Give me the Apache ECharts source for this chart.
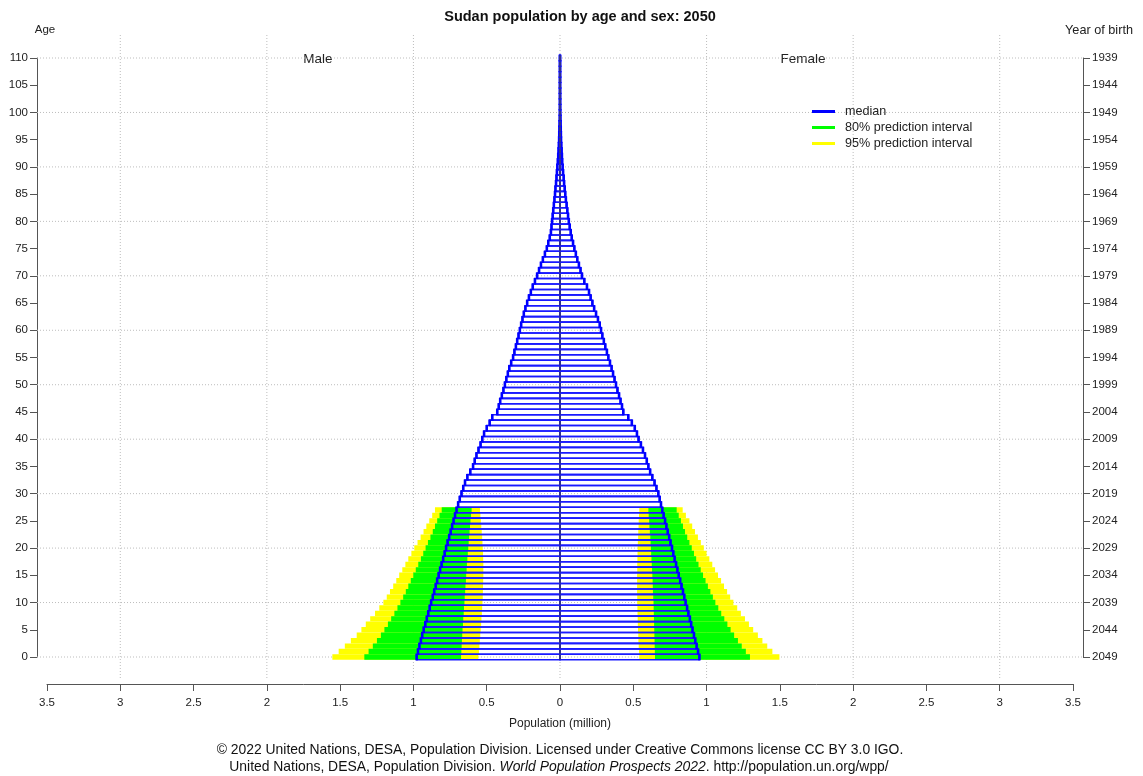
<!DOCTYPE html>
<html>
<head>
<meta charset="utf-8">
<script src="https://cdn.jsdelivr.net/npm/echarts@6/dist/echarts.min.js"></script>
<style>
html,body{margin:0;padding:0;background:#fff}
#chart{width:1143px;height:776px}
</style>
</head>
<body>
<div id="chart"></div>
<script>
// ---------------- DATA (population in millions, index = age 0..110) ----------------
const maleMedian = [
  0.978, 0.969, 0.959, 0.949, 0.940, 0.930, 0.919, 0.909, 0.899, 0.889,  // 0-9
  0.879, 0.868, 0.858, 0.848, 0.838, 0.828, 0.818, 0.808, 0.797, 0.787,  // 10-19
  0.777, 0.767, 0.756, 0.746, 0.736, 0.726, 0.716, 0.706, 0.695, 0.684,  // 20-29
  0.672, 0.660, 0.648, 0.632, 0.612, 0.593, 0.582, 0.570, 0.556, 0.542,  // 30-39
  0.530, 0.518, 0.500, 0.480, 0.462, 0.428, 0.418, 0.408, 0.397, 0.386,  // 40-49
  0.376, 0.366, 0.356, 0.346, 0.333, 0.320, 0.311, 0.301, 0.292, 0.283,  // 50-59
  0.274, 0.265, 0.256, 0.247, 0.236, 0.224, 0.212, 0.199, 0.186, 0.171,  // 60-69
  0.156, 0.143, 0.130, 0.117, 0.103, 0.090, 0.080, 0.070, 0.062, 0.058,  // 70-79
  0.054, 0.050, 0.046, 0.042, 0.038, 0.034, 0.031, 0.027, 0.024, 0.021,  // 80-89
  0.018, 0.015, 0.012, 0.010, 0.008, 0.006, 0.005, 0.004, 0.003, 0.002,  // 90-99
  0.0015, 0.0012, 0.0010, 0.0008, 0.0006, 0.0005, 0.0004, 0.0003, 0.0002, 0.0001, // 100-109
  0.0001                                                                   // 110
];
const femaleMedian = [
  0.951, 0.942, 0.932, 0.923, 0.914, 0.904, 0.895, 0.886, 0.876, 0.867,  // 0-9
  0.857, 0.848, 0.839, 0.829, 0.820, 0.810, 0.801, 0.792, 0.782, 0.773,  // 10-19
  0.764, 0.754, 0.745, 0.735, 0.726, 0.717, 0.707, 0.698, 0.689, 0.680,  // 20-29
  0.671, 0.658, 0.645, 0.630, 0.615, 0.603, 0.592, 0.580, 0.566, 0.552,  // 30-39
  0.536, 0.525, 0.510, 0.490, 0.466, 0.432, 0.423, 0.413, 0.403, 0.392,  // 40-49
  0.382, 0.372, 0.362, 0.352, 0.341, 0.330, 0.320, 0.309, 0.299, 0.289,  // 50-59
  0.280, 0.271, 0.259, 0.246, 0.233, 0.221, 0.209, 0.198, 0.184, 0.166,  // 60-69
  0.150, 0.140, 0.129, 0.118, 0.108, 0.098, 0.089, 0.080, 0.073, 0.066,  // 70-79
  0.060, 0.055, 0.050, 0.045, 0.040, 0.036, 0.032, 0.028, 0.025, 0.021,  // 80-89
  0.018, 0.015, 0.013, 0.011, 0.009, 0.007, 0.006, 0.005, 0.004, 0.003,  // 90-99
  0.0020, 0.0016, 0.0013, 0.0010, 0.0008, 0.0006, 0.0005, 0.0004, 0.0003, 0.0002, // 100-109
  0.0001                                                                   // 110
];

// prediction intervals, ages 0..27 (cohorts born after the base year)
const maleL95 = [0.557,0.553,0.550,0.547,0.544,0.541,0.538,0.536,0.533,0.531,0.529,0.527,0.526,0.525,
                 0.524,0.523,0.523,0.523,0.524,0.525,0.527,0.529,0.531,0.534,0.537,0.540,0.543,0.546];
const maleL80 = [0.675,0.673,0.671,0.669,0.667,0.665,0.662,0.660,0.657,0.655,0.652,0.650,0.647,0.645,
                 0.642,0.640,0.637,0.635,0.632,0.629,0.626,0.623,0.620,0.617,0.614,0.611,0.607,0.603];
const maleU80 = [1.335,1.306,1.277,1.249,1.222,1.198,1.174,1.152,1.130,1.109,1.089,1.070,1.052,1.035,
                 1.018,1.001,0.984,0.967,0.949,0.933,0.917,0.901,0.884,0.868,0.853,0.838,0.822,0.807];
const maleU95 = [1.553,1.510,1.468,1.427,1.387,1.355,1.325,1.295,1.262,1.233,1.205,1.182,1.160,1.138,
                 1.117,1.097,1.076,1.055,1.035,1.014,0.994,0.972,0.951,0.931,0.912,0.892,0.872,0.853];
const femaleL95 = [0.541,0.539,0.537,0.535,0.534,0.532,0.531,0.530,0.529,0.528,0.527,0.527,0.526,0.526,
                   0.526,0.526,0.527,0.527,0.528,0.529,0.530,0.531,0.533,0.534,0.536,0.537,0.539,0.541];
const femaleL80 = [0.648,0.647,0.646,0.645,0.644,0.643,0.642,0.641,0.640,0.639,0.638,0.636,0.634,0.633,
                   0.632,0.630,0.628,0.626,0.624,0.622,0.620,0.618,0.616,0.613,0.610,0.608,0.605,0.603];
const femaleU80 = [1.296,1.268,1.240,1.214,1.188,1.164,1.142,1.121,1.100,1.080,1.060,1.043,1.026,1.009,
                   0.993,0.976,0.960,0.945,0.929,0.914,0.899,0.883,0.868,0.853,0.839,0.825,0.810,0.796];
const femaleU95 = [1.497,1.449,1.414,1.381,1.350,1.318,1.289,1.262,1.234,1.209,1.183,1.161,1.140,1.119,
                   1.099,1.078,1.058,1.039,1.019,1.000,0.981,0.961,0.941,0.921,0.902,0.883,0.859,0.837];

// tick labels
const birthYearLabels = ['2049','2044','2039','2034','2029','2024','2019','2014','2009','2004','1999','1994',
                         '1989','1984','1979','1974','1969','1964','1959','1954','1949','1944','1939'];
const popGridValues = [-3, -2, -1, 0, 1, 2, 3];
const ageGridValues = [0, 10, 20, 30, 40, 50, 60, 70, 80, 90, 100, 110];

// ---------------- LAYOUT ----------------
const FONT = '"Liberation Sans", Arial, Helvetica, sans-serif';
const L = { ax: 47, axR: 1073, ayTop: 58, ayBot: 657,   // data-axis frame
            px: 37, pxR: 1083, pyTop: 35, pyBot: 680 }; // plot region (grid lines)
const W = 1143, H = 776;
const ux = (L.axR - L.ax) / 7;
const uy = (L.ayBot - L.ayTop) / 110;
const xBmin = -3.5 - (L.ax - L.px) / ux, xBmax = 3.5 + (L.pxR - L.axR) / ux;
const yBmin = -(L.pyBot - L.ayBot) / uy, yBmax = 110 + (L.ayTop - L.pyTop) / uy;

// ---------------- BUILD SERIES DATA ----------------
const band95 = [], band80 = [], medianData = [];
for (let a = 0; a < maleL95.length; a++) {
  band95.push([a, -maleU95[a], -maleL95[a]], [a, femaleL95[a], femaleU95[a]]);
  band80.push([a, -maleU80[a], -maleL80[a]], [a, femaleL80[a], femaleU80[a]]);
}
for (let a = 0; a < maleMedian.length; a++) {
  medianData.push([a, -maleMedian[a]], [a, femaleMedian[a]]);
}

function bandRenderer(color) {
  return function (params, api) {
    const age = api.value(0), lo = api.value(1), hi = api.value(2);
    const p1 = api.coord([lo, age + 0.5]);
    const p2 = api.coord([hi, age - 0.5]);
    return { type: 'rect',
      shape: { x: p1[0], y: p1[1], width: p2[0] - p1[0], height: p2[1] - p1[1] },
      style: { fill: color } };
  };
}
function medianRenderer(params, api) {
  const age = api.value(0), v = api.value(1);
  const z = api.coord([0, age + 0.5]);
  const e = api.coord([v, age - 0.5]);
  const x0 = Math.min(z[0], e[0]), w = Math.abs(e[0] - z[0]);
  return { type: 'group', children: [
    { type: 'rect', shape: { x: x0, y: z[1], width: w, height: e[1] - z[1] },
      style: { fill: 'rgba(0,0,0,0)', stroke: '#1a1aff', lineWidth: 1.6 } },
    { type: 'line', shape: { x1: e[0], y1: z[1] - 0.6, x2: e[0], y2: e[1] + 0.6 },
      style: { stroke: '#0000ff', lineWidth: 2.6 } },
    { type: 'line', shape: { x1: z[0], y1: z[1], x2: z[0], y2: e[1] },
      style: { stroke: '#30308a', lineWidth: 2 } }
  ]};
}
const gridStyle = { stroke: '#bdbdbd', lineWidth: 1, lineDash: [1, 2] };
function vGridRenderer(params, api) {
  const x = api.coord([api.value(0), 0])[0];
  const cs = params.coordSys;
  return { type: 'line', shape: { x1: x, y1: cs.y, x2: x, y2: cs.y + cs.height }, style: gridStyle };
}
function hGridRenderer(params, api) {
  const y = api.coord([0, api.value(1)])[1];
  const cs = params.coordSys;
  return { type: 'line', shape: { x1: cs.x, y1: y, x2: cs.x + cs.width, y2: y }, style: gridStyle };
}

const axisLineStyle = { color: '#555', width: 1 };
const tickLabel = { color: '#222', fontSize: 11.5, fontFamily: FONT };

const option = {
  animation: false,
  backgroundColor: '#fff',
  textStyle: { fontFamily: FONT },
  grid: [
    { left: L.ax, right: W - L.axR, top: L.ayTop, bottom: H - L.ayBot },
    { left: L.px, right: W - L.pxR, top: L.pyTop, bottom: H - L.pyBot }
  ],
  xAxis: [
    { type: 'value', gridIndex: 0, min: -3.5, max: 3.5, interval: 0.5, position: 'bottom',
      offset: 684 - L.ayBot,
      axisLine: { show: true, onZero: false, lineStyle: axisLineStyle },
      axisTick: { show: true, length: 7, lineStyle: axisLineStyle },
      axisLabel: Object.assign({ margin: 13, formatter: v => String(Math.abs(v)) }, tickLabel),
      splitLine: { show: false },
      name: 'Population (million)', nameLocation: 'middle', nameGap: 34,
      nameTextStyle: { color: '#222', fontSize: 12, fontFamily: FONT } },
    { type: 'value', gridIndex: 1, min: xBmin, max: xBmax, show: false }
  ],
  yAxis: [
    { type: 'value', gridIndex: 0, min: 0, max: 110, interval: 5, position: 'left', offset: L.ax - L.px,
      axisLine: { show: true, onZero: false, lineStyle: axisLineStyle },
      axisTick: { show: true, length: 7, lineStyle: axisLineStyle },
      axisLabel: Object.assign({ margin: 9 }, tickLabel),
      splitLine: { show: false } },
    { type: 'value', gridIndex: 0, min: 0, max: 110, interval: 5, position: 'right', offset: L.pxR - L.axR,
      axisLine: { show: true, onZero: false, lineStyle: axisLineStyle },
      axisTick: { show: true, length: 7, lineStyle: axisLineStyle },
      axisLabel: Object.assign({ margin: 9, formatter: v => birthYearLabels[Math.round(v / 5)] }, tickLabel),
      splitLine: { show: false } },
    { type: 'value', gridIndex: 1, min: yBmin, max: yBmax, show: false }
  ],
  legend: {
    orient: 'vertical', left: 812, top: 105, padding: 0,
    itemWidth: 23, itemHeight: 3, itemGap: 3, icon: 'rect', selectedMode: false,
    textStyle: { color: '#222', fontSize: 12.6, fontFamily: FONT, lineHeight: 13, padding: [0, 0, 0, 5] },
    data: [
      { name: 'median', itemStyle: { color: '#0000ff' } },
      { name: '80% prediction interval', itemStyle: { color: '#00ff00' } },
      { name: '95% prediction interval', itemStyle: { color: '#ffff00' } }
    ]
  },
  series: [
    { type: 'custom', name: 'vgrid', xAxisIndex: 1, yAxisIndex: 2, z: 1, silent: true,
      data: popGridValues.map(v => [v, 0]), renderItem: vGridRenderer },
    { type: 'custom', name: 'hgrid', xAxisIndex: 1, yAxisIndex: 2, z: 1, silent: true,
      data: ageGridValues.map(v => [0, v]), renderItem: hGridRenderer },
    { type: 'custom', name: '95% prediction interval', xAxisIndex: 0, yAxisIndex: 0, z: 2,
      itemStyle: { color: '#ffff00' }, data: band95, renderItem: bandRenderer('#ffff00') },
    { type: 'custom', name: '80% prediction interval', xAxisIndex: 0, yAxisIndex: 0, z: 3,
      itemStyle: { color: '#00ff00' }, data: band80, renderItem: bandRenderer('#00ff00') },
    { type: 'custom', name: 'median', xAxisIndex: 0, yAxisIndex: 0, z: 4,
      itemStyle: { color: '#0000ff' }, data: medianData, renderItem: medianRenderer }
  ],
  graphic: [
    { type: 'text', x: 580, y: 17, style: { text: 'Sudan population by age and sex: 2050',
      fontSize: 14.5, fontWeight: 'bold', fontFamily: FONT, fill: '#111', align: 'center', verticalAlign: 'middle' } },
    { type: 'text', x: 45, y: 30, style: { text: 'Age', fontSize: 11.5, fontFamily: FONT, fill: '#222',
      align: 'center', verticalAlign: 'middle' } },
    { type: 'text', x: 1099, y: 30, style: { text: 'Year of birth', fontSize: 12.7, fontFamily: FONT, fill: '#222',
      align: 'center', verticalAlign: 'middle' } },
    { type: 'text', x: 318, y: 59, style: { text: 'Male', fontSize: 13.5, fontFamily: FONT, fill: '#222',
      align: 'center', verticalAlign: 'middle' } },
    { type: 'text', x: 803, y: 59, style: { text: 'Female', fontSize: 13.5, fontFamily: FONT, fill: '#222',
      align: 'center', verticalAlign: 'middle' } },
    { type: 'text', x: 560, y: 750, style: {
      text: '© 2022 United Nations, DESA, Population Division. Licensed under Creative Commons license CC BY 3.0 IGO.',
      fontSize: 13.9, fontFamily: FONT, fill: '#111', align: 'center', verticalAlign: 'middle' } },
    { type: 'text', x: 559, y: 767, style: {
      text: 'United Nations, DESA, Population Division. {i|World Population Prospects 2022}. http://population.un.org/wpp/',
      rich: { i: { fontStyle: 'italic', fontSize: 13.9, fontFamily: FONT, fill: '#111' } },
      fontSize: 13.9, fontFamily: FONT, fill: '#111', align: 'center', verticalAlign: 'middle' } }
  ]
};

const chart = echarts.init(document.getElementById('chart'), null, { renderer: 'canvas' });
chart.setOption(option);
</script>
</body>
</html>
